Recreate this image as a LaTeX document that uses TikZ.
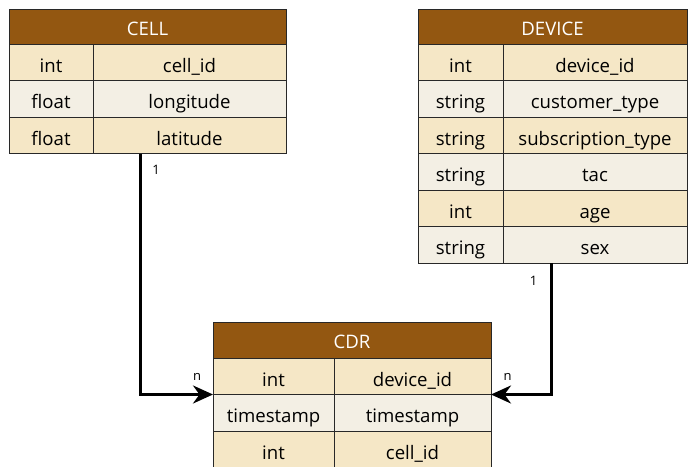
\documentclass[tikz,border=0pt]{standalone}
\usepackage{fontspec}
\setmainfont{Open Sans}
\usetikzlibrary{arrows.meta,positioning,calc}

\definecolor{hdrbrown}{RGB}{147,87,17}
\definecolor{rowdark}{RGB}{245,231,198}
\definecolor{rowlight}{RGB}{243,239,228}
\definecolor{gridline}{RGB}{40,40,40}

\tikzset{
  cellbox/.style={draw=gridline,line width=1pt,anchor=north west,inner sep=0pt,outer sep=0pt,
    minimum height=36.5pt,text height=20pt,text depth=0pt,font=\fontsize{18.6}{22}\selectfont},
  hdr/.style={cellbox,fill=hdrbrown,text=white,minimum height=35pt,text height=17pt},
  rowa/.style={cellbox,fill=rowdark},
  rowb/.style={cellbox,fill=rowlight},
  link/.style={line width=3pt,-{Stealth[length=20pt,width=18pt]}},
  card/.style={font=\fontsize{13}{15}\selectfont}
}

\begin{document}
\begin{tikzpicture}[x=1pt,y=-1pt]
\useasboundingbox (0,0) rectangle (688,466);

% CELL table
\node[hdr,minimum width=277pt] (cell) at (9,9) {CELL};
\node[rowa,minimum width=84pt] (cell1t) at (9,44) {int};
\node[rowa,minimum width=193pt] (cell1n) at (93,44) {cell\_id};
\node[rowb,minimum width=84pt] (cell2t) at (9,80.5) {float};
\node[rowb,minimum width=193pt] (cell2n) at (93,80.5) {longitude};
\node[rowa,minimum width=84pt] (cell3t) at (9,117) {float};
\node[rowa,minimum width=193pt] (cell3n) at (93,117) {latitude};

% DEVICE table
\node[hdr,minimum width=269pt] (dev) at (418,9) {DEVICE};
\node[rowa,minimum width=85pt] (dev1t) at (418,44) {int};
\node[rowa,minimum width=184pt] (dev1n) at (503,44) {device\_id};
\node[rowb,minimum width=85pt] (dev2t) at (418,80.5) {string};
\node[rowb,minimum width=184pt] (dev2n) at (503,80.5) {customer\_type};
\node[rowa,minimum width=85pt] (dev3t) at (418,117) {string};
\node[rowa,minimum width=184pt] (dev3n) at (503,117) {subscription\_type};
\node[rowb,minimum width=85pt] (dev4t) at (418,153.5) {string};
\node[rowb,minimum width=184pt] (dev4n) at (503,153.5) {tac};
\node[rowa,minimum width=85pt] (dev5t) at (418,190) {int};
\node[rowa,minimum width=184pt] (dev5n) at (503,190) {age};
\node[rowb,minimum width=85pt] (dev6t) at (418,226.5) {string};
\node[rowb,minimum width=184pt] (dev6n) at (503,226.5) {sex};

% CDR table
\node[hdr,minimum width=278pt,minimum height=36pt] (cdr) at (213,322) {CDR};
\node[rowa,minimum width=121pt] (cdr1t) at (213,358) {int};
\node[rowa,minimum width=157pt] (cdr1n) at (334,358) {device\_id};
\node[rowb,minimum width=121pt] (cdr2t) at (213,394.5) {timestamp};
\node[rowb,minimum width=157pt] (cdr2n) at (334,394.5) {timestamp};
\node[rowa,minimum width=121pt] (cdr3t) at (213,431) {int};
\node[rowa,minimum width=157pt] (cdr3n) at (334,431) {cell\_id};

% relations
\draw[link] ($(cell3t.south west)!0.475!(cell3n.south east)$) |- (cdr1t.south west);
\draw[link] ($(dev6t.south west)!0.495!(dev6n.south east)$) |- (cdr1n.south east);
\node[card] (cellone) at (156,170) {1};
\node[card] (celln) at (197,377) {n};
\node[card] (devone) at (533.5,280.5) {1};
\node[card] (devn) at (507.5,377) {n};
\end{tikzpicture}
\end{document}
